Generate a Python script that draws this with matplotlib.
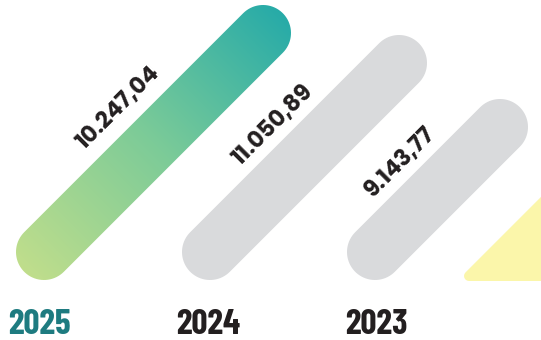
import numpy as np
import matplotlib.pyplot as plt
from matplotlib.patches import Polygon
from matplotlib.colors import LinearSegmentedColormap

# data
years = ['2025', '2024', '2023']
values = [10247.04, 11050.89, 9143.77]
year_colors = ['#1e7b80', '#231f20', '#231f20']

# layout (pixel space, y pointing down)
bar_x0 = [44, 210, 375]     # centre of the lower cap
bar_y0 = 252
bar_span = [219, 189, 125]  # run of each slanted bar
radius = 28
label_gap = [21, 17, 18]    # label centre distance beyond the bar edge
label_shift = [0, 0, -7]    # slide along the bar
year_inset = [36, 34, 30]


def fmt(v):
    s = f'{v:,.2f}'
    return s.replace(',', 'X').replace('.', ',').replace('X', '.')


def pill(x0, y0, x1, y1, r, n=40):
    a = np.arctan2(y1 - y0, x1 - x0)
    t1 = np.linspace(a - np.pi / 2, a + np.pi / 2, n)
    t0 = np.linspace(a + np.pi / 2, a + 3 * np.pi / 2, n)
    pts = np.vstack([np.column_stack([x1 + r * np.cos(t1), y1 + r * np.sin(t1)]),
                     np.column_stack([x0 + r * np.cos(t0), y0 + r * np.sin(t0)])])
    return pts


fig = plt.figure(figsize=(5.41, 3.4), dpi=100)
ax = fig.add_axes([0, 0, 1, 1])
ax.set_xlim(0, 541)
ax.set_ylim(340, 0)
ax.axis('off')

grad = LinearSegmentedColormap.from_list('g', ['#c4df8b', '#7ccb98', '#22a9a9'])

for i, (yr, v) in enumerate(zip(years, values)):
    x0, y0 = bar_x0[i], bar_y0
    x1, y1 = x0 + bar_span[i], y0 - bar_span[i]
    pts = pill(x0, y0, x1, y1, radius)
    if i == 0:
        patch = Polygon(pts, closed=True, facecolor='none', edgecolor='none')
        ax.add_patch(patch)
        xs = np.linspace(x0 - radius, x1 + radius, 200)
        ys = np.linspace(y1 - radius, y0 + radius, 200)
        X, Y = np.meshgrid(xs, ys)
        T = (X - xs[0]) + (ys[-1] - Y)
        T = T / T.max()
        im = ax.imshow(T, cmap=grad, extent=(xs[0], xs[-1], ys[-1], ys[0]),
                       origin='upper', interpolation='bilinear', zorder=2)
        im.set_clip_path(patch)
    else:
        ax.add_patch(Polygon(pts, closed=True, facecolor='#d9dadc',
                             edgecolor='none', zorder=2))

    # value label sitting on the upper-left side of the bar
    mx, my = (x0 + x1) / 2, (y0 + y1) / 2
    d = radius + label_gap[i]
    s = label_shift[i]
    tx = mx - d / np.sqrt(2) + s / np.sqrt(2)
    ty = my - d / np.sqrt(2) - s / np.sqrt(2)
    ax.text(tx, ty, fmt(v), rotation=45, rotation_mode='anchor',
            ha='center', va='center', fontsize=16.5, fontweight='bold',
            family=['Poppins', 'Open Sans', 'DejaVu Sans'],
            color='#231f20', zorder=3)

    ax.text(x0 - year_inset[i], 334.5, yr, ha='left', va='baseline',
            fontsize=25.5, fontweight='bold', color=year_colors[i],
            family=['Barlow Condensed', 'DejaVu Sans'])

# pale yellow corner shape cut by the right edge
tri = Polygon([(469, 276), (560, 276), (560, 185)], closed=True,
              facecolor='#fbf6aa', edgecolor='#fbf6aa', linewidth=7.2,
              joinstyle='round', zorder=1)
ax.add_patch(tri)

fig.savefig('out.png', dpi=100)
